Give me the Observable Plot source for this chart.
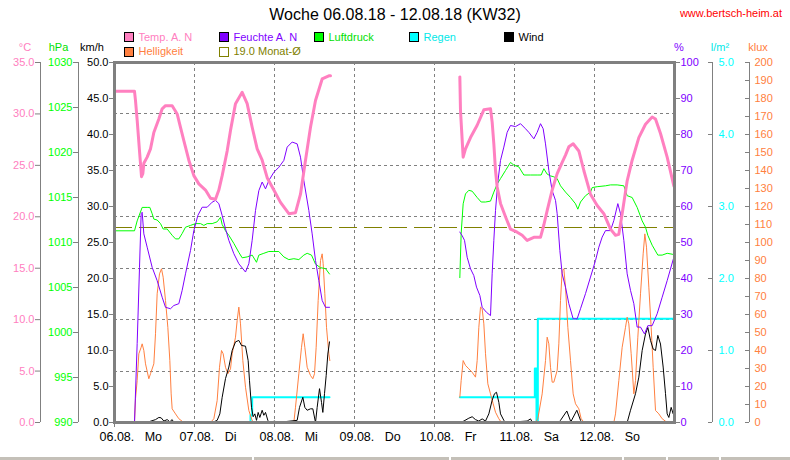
<!DOCTYPE html>
<html><head><meta charset="utf-8">
<script src="https://cdn.jsdelivr.net/npm/d3@7"></script>
<script src="https://cdn.jsdelivr.net/npm/@observablehq/plot@0.6"></script>
<style>
html,body{margin:0;padding:0;background:#fff;}
#wrap{position:relative;width:790px;height:460px;overflow:hidden;background:#fff;font-family:"Liberation Sans",Arial,sans-serif;}
.t{position:absolute;white-space:pre;line-height:12px;font-size:11px;}
.sq{position:absolute;width:8px;height:8px;border:1px solid #000;}
.sb{position:absolute;top:457px;height:3px;background:#c4c0b8;}
</style></head><body><div id="wrap"></div>
<script>
// ---------- data (t = hours since 06.08.18 00:00) ----------
const dayTicks = [0, 24, 48, 72, 96, 120, 144];
const dayLabels = ["06.08.\u00a0\u00a0\u00a0Mo", "07.08.\u00a0\u00a0\u00a0Di", "08.08.\u00a0\u00a0\u00a0Mi", "09.08.\u00a0\u00a0\u00a0Do", "10.08.\u00a0\u00a0\u00a0Fr", "11.08.\u00a0\u00a0\u00a0Sa", "12.08.\u00a0\u00a0\u00a0So"];
const tempTicks = [0, 5, 10, 15, 20, 25, 30, 35];
const tempGrid = [5, 10, 15, 20, 25, 30];
const presTicks = [990, 995, 1000, 1005, 1010, 1015, 1020, 1025, 1030];
const windTicks = [0, 5, 10, 15, 20, 25, 30, 35, 40, 45, 50];
const humTicks = [0, 10, 20, 30, 40, 50, 60, 70, 80, 90, 100];
const rainTicks = [0, 1, 2, 3, 4, 5];
const luxTicks = [0, 10, 20, 30, 40, 50, 60, 70, 80, 90, 100, 110, 120, 130, 140, 150, 160, 170, 180, 190, 200];
const monthAvg = 19.0;

const temp = [[0,32.2],[6,32.2],[6.3,31.3],[6.8,29.4],[7.5,26.4],[8.1,23.9],[8.5,24.2],[8.8,25.2],[9.8,25.8],[10.8,26.6],[11.8,28.2],[13.3,29.5],[14.3,30.5],[15.3,30.8],[17.3,30.8],[18.8,30.0],[19.8,28.7],[20.8,27.4],[22.3,25.5],[23.8,24.0],[25.3,23.2],[27.3,22.6],[28.8,21.8],[30.3,21.7],[31.3,22.6],[32.3,24.0],[33.8,26.4],[34.8,28.4],[36.3,31.0],[38.3,32.1],[39.8,31.0],[41.3,28.7],[42.8,26.6],[44.3,25.5],[45.8,23.8],[47.8,22.6],[49.8,21.4],[52.3,20.3],[54.3,20.4],[55.8,22.2],[57.3,25.5],[58.8,28.7],[60.3,31.3],[62.3,33.4],[64.3,33.7],[64.8,33.7],
[84,null],
[103.6,33.6],[103.8,30.3],[104.6,25.8],[105.3,26.6],[106.8,27.7],[108.8,28.9],[110.8,30.4],[112.8,30.5],[113.3,29.2],[113.8,27.1],[114.3,24.5],[114.8,22.9],[115.8,21.3],[117.3,20.0],[118.8,18.8],[120.8,18.5],[122.3,18.2],[123.8,17.7],[125.8,18.0],[127.8,18.0],[128.8,19.2],[129.8,20.6],[131.3,22.6],[132.8,24.2],[134.3,25.3],[135.3,26.0],[136.3,26.8],[137.6,27.1],[139.3,26.4],[140.8,24.5],[142.8,22.2],[144.8,21.1],[146.8,20.3],[148.8,18.8],[150.3,18.2],[151.3,18.3],[152.3,20.3],[153.8,23.5],[155.3,25.5],[157.3,27.7],[159.3,29.0],[161.3,29.7],[162.3,29.5],[163.8,28.1],[165.8,25.8],[167.8,23.0]];

const humidity = [[6.0,0],[6.8,21.9],[7.5,43.1],[8.0,58.0],[8.3,58.4],[8.8,52.4],[9.8,48.7],[11.3,43.1],[12.8,39.4],[14.3,34.8],[15.3,32.0],[16.8,31.6],[17.8,32.5],[19.3,33.0],[20.3,36.7],[21.3,41.3],[22.8,47.8],[23.8,53.3],[25.0,57.5],[26.3,59.8],[27.8,59.8],[29.3,61.2],[30.3,61.7],[31.3,60.8],[32.3,57.5],[33.3,53.8],[34.3,50.6],[35.8,46.9],[37.3,44.1],[39.3,41.8],[40.3,44.1],[41.3,50.6],[42.3,58.9],[43.3,64.4],[44.3,66.8],[45.3,64.9],[46.3,67.2],[47.8,69.5],[49.3,70.9],[50.8,72.8],[51.8,76.5],[53.3,77.9],[54.8,77.4],[55.8,73.7],[56.8,67.2],[58.3,58.9],[59.3,52.4],[60.3,45.0],[61.3,39.4],[62.3,33.9],[63.3,32.0],[64.5,32.0],
[84,null],
[103.6,52.9],[104.3,51.9],[105.0,50.6],[105.8,45.9],[106.8,42.7],[107.8,40.8],[108.6,37.6],[109.6,35.3],[110.3,32.0],[111.6,30.6],[112.8,29.7],[113.3,41.3],[113.8,50.6],[114.3,58.9],[115.0,66.8],[115.8,72.8],[116.8,76.5],[117.8,80.6],[118.8,82.5],[120.3,82.2],[121.8,83.0],[123.3,81.6],[124.3,80.6],[125.8,78.8],[126.8,80.6],[127.8,83.0],[128.6,81.6],[129.3,77.4],[130.3,70.0],[131.3,64.4],[132.3,61.7],[132.8,58.0],[133.6,47.8],[134.3,41.3],[135.3,37.6],[136.3,33.0],[137.6,28.8],[138.8,28.8],[139.8,31.6],[141.3,35.8],[142.8,40.4],[144.3,45.0],[145.3,48.7],[146.3,51.5],[147.3,53.3],[148.8,53.3],[149.8,56.1],[151.0,60.8],[151.8,58.0],[152.8,50.6],[153.8,41.3],[154.8,36.7],[155.8,33.0],[156.8,26.5],[157.8,26.5],[159.0,24.6],[160.0,26.9],[161.3,26.9],[162.8,30.2],[164.3,34.8],[165.8,39.4],[167.8,45.9]];

const pressure = [[0,1011.3],[6.0,1011.3],[6.8,1012.4],[8.3,1013.9],[9.8,1013.9],[10.6,1013.9],[11.3,1013.2],[11.8,1012.6],[12.8,1012.5],[13.8,1012.1],[14.6,1011.5],[15.8,1011.5],[17.3,1010.8],[18.3,1010.4],[19.3,1010.4],[20.3,1011.0],[21.3,1011.7],[22.8,1011.9],[24.3,1012.1],[25.8,1012.1],[26.8,1011.9],[27.8,1012.1],[29.3,1012.1],[30.8,1012.3],[31.8,1012.8],[32.3,1012.0],[33.3,1011.3],[34.3,1010.8],[35.8,1009.9],[37.3,1008.9],[38.3,1008.3],[39.8,1008.4],[41.3,1008.6],[42.6,1007.8],[43.3,1008.6],[44.8,1008.8],[46.3,1009.0],[47.8,1009.0],[49.3,1009.0],[50.8,1008.4],[52.3,1008.1],[53.8,1008.2],[55.3,1008.1],[56.8,1008.6],[57.8,1008.8],[59.1,1008.6],[60.3,1007.6],[61.8,1007.2],[63.3,1007.1],[64.5,1006.5],
[84,null],
[103.6,1006.1],[104.0,1011.0],[104.6,1014.3],[105.3,1015.4],[106.3,1015.8],[107.3,1015.7],[108.8,1015.0],[110.0,1014.5],[111.3,1014.5],[112.8,1014.6],[113.8,1015.6],[114.8,1016.5],[115.8,1017.1],[117.3,1018.0],[118.8,1018.9],[119.8,1018.6],[121.3,1018.4],[122.8,1017.5],[124.8,1017.5],[126.8,1017.5],[128.0,1017.5],[128.8,1018.2],[129.8,1017.6],[130.8,1017.4],[131.8,1017.3],[132.8,1017.1],[133.8,1016.3],[135.3,1015.6],[136.8,1015.0],[138.3,1014.3],[139.0,1013.7],[139.8,1014.5],[141.3,1015.2],[142.8,1015.6],[143.3,1016.1],[144.8,1016.2],[147.3,1016.3],[148.8,1016.4],[150.8,1016.4],[152.8,1016.3],[153.8,1015.2],[155.3,1015.0],[156.8,1013.9],[158.3,1012.4],[159.3,1011.7],[160.0,1010.8],[161.3,1009.7],[163.0,1008.6],[164.3,1008.6],[165.8,1008.8],[167.3,1008.7],[168,1008.6]];

const light = [[6.0,0],[6.3,13.2],[6.8,23.3],[7.3,38.2],[8.0,41.8],[8.3,43.7],[8.8,40.0],[9.3,32.6],[10.3,24.3],[10.8,27.1],[11.8,32.6],[12.3,49.3],[12.8,71.5],[13.5,82.6],[14.1,85.4],[14.6,80.7],[15.3,67.8],[16.0,52.9],[16.6,34.4],[17.0,15.9],[17.3,7.6],[18.3,4.8],[19.3,2.1],[20.3,0.7],[20.8,0],[28.8,0],[29.8,2.1],[30.8,12.2],[31.5,30.7],[32.1,40.0],[32.6,38.2],[33.3,30.7],[34.0,27.1],[34.8,29.8],[35.3,38.2],[36.3,47.4],[36.8,56.7],[37.3,64.1],[37.8,54.8],[38.5,34.4],[39.3,19.6],[40.3,6.7],[41.3,1.1],[42.1,0],[53.8,0],[54.3,8.5],[55.3,27.1],[56.1,41.8],[56.6,49.3],[57.1,41.8],[57.8,30.7],[58.8,26.1],[59.5,24.3],[60.0,27.1],[60.5,41.8],[61.1,67.8],[61.8,90.0],[62.3,93.7],[62.6,88.2],[63.1,71.5],[63.6,52.9],[64.3,38.2],[64.6,34.4],
[84,null],
[103.6,14.1],[104.0,23.3],[104.6,34.4],[105.3,31.7],[106.3,29.8],[107.3,27.9],[108.3,25.2],[108.8,34.4],[109.3,52.9],[109.8,64.1],[110.3,63.2],[110.8,54.8],[111.3,38.2],[112.0,21.5],[112.8,15.9],[113.6,10.4],[114.3,5.7],[115.3,2.1],[115.8,0.7],[116.4,0],[126.3,0],[127.0,2.1],[128.3,15.9],[129.3,34.4],[129.8,47.4],[130.3,43.7],[130.8,30.7],[131.3,22.4],[131.8,22.4],[132.8,28.9],[133.3,43.7],[133.8,67.8],[134.3,84.4],[134.8,85.4],[135.3,75.2],[136.0,52.9],[136.8,34.4],[137.6,15.9],[138.3,10.4],[139.3,7.6],[140.0,2.1],[140.6,0.7],[141.0,0],[149.8,0],[150.3,4.8],[151.3,23.3],[152.3,41.8],[153.3,52.9],[153.8,58.5],[154.3,54.8],[155.0,38.2],[155.8,15.9],[156.3,23.3],[157.0,47.4],[157.8,71.5],[158.6,93.7],[159.1,104.8],[159.6,97.4],[160.3,75.2],[161.0,52.9],[161.6,30.7],[162.3,6.7],[163.3,4.8],[164.3,2.1],[165.3,0.7],[165.9,0],[168,0]];

const wind = [[6.0,0],[8.8,0.1],[10.3,0.1],[12.3,0.4],[13.3,0.7],[14.0,0.65],[14.8,0.2],[15.8,0.4],[16.6,0.1],[17.3,0.4],[17.8,0],[29.3,0],[30.8,0.3],[31.6,1.2],[32.3,3.5],[33.3,6.1],[34.3,7.7],[35.3,10.0],[36.3,11.2],[37.3,11.4],[38.1,10.7],[39.3,10.6],[40.1,8.6],[40.5,5.8],[41.1,2.1],[41.6,0.8],[42.1,1.2],[42.6,0.3],[43.1,1.4],[43.6,0.7],[44.3,1.7],[44.8,1.0],[45.3,1.4],[46.0,0.3],[46.5,0],[48.1,0.2],[48.8,0],[54.8,0.3],[55.5,2.1],[56.5,3.5],[57.1,2.1],[57.8,1.7],[58.8,1.9],[59.5,1.9],[60.3,0],[60.8,2.1],[61.5,4.7],[62.1,2.8],[62.5,1.4],[63.0,4.0],[63.5,6.5],[64.0,9.5],[64.5,11.2],
[84,null],
[103.6,0],[104.8,0.2],[106.3,0.6],[107.3,0.8],[108.3,0.4],[109.3,0.2],[110.3,0.5],[111.3,0.2],[112.3,1.2],[113.3,3.1],[114.0,4.0],[114.6,4.2],[115.3,2.8],[115.8,1.2],[116.8,0.3],[117.3,0],[123.8,0.2],[124.8,0.5],[125.4,0],[133.2,0],[133.8,0.3],[135.7,1.6],[136.9,0.1],[138.7,1.7],[139.8,0.3],[140.4,0],[153.8,0],[154.8,1.7],[156.3,4.0],[157.3,6.3],[158.3,10.0],[159.3,12.3],[160.0,13.2],[160.8,11.4],[161.6,10.2],[162.3,10.0],[163.0,12.1],[163.8,10.9],[164.6,7.7],[165.3,4.0],[165.8,1.2],[166.3,0.7],[167.0,2.1],[167.6,1.2],[168,1.0]];

const rain = [[6,0],[40.3,0],[40.8,0.1],[41.3,0.35],[64.5,0.35],
[84,null],
[103.6,0.35],[126.1,0.75],[126.6,0],[127.0,1.44],[168,1.44]];

const legendLabels = [["Temp. A. N", "Helligkeit"], ["Feuchte A. N", monthAvg.toFixed(1) + " Monat-Ø"], ["Luftdruck"], ["Regen"], ["Wind"]];

// ---------- styling ----------
const C = {pink:"#ff80c0", orange:"#ff8040", purple:"#8000ff", olive:"#808000", green:"#00ff00", cyan:"#00ffff", black:"#000000", grey:"#808080"};
const legendColors = [[C.pink, C.orange], [C.purple, C.olive], [C.green], [C.cyan], [C.black]];
const legendText = [[C.pink, C.orange], [C.purple, C.olive], ["#00e000"], ["#00e8e8"], [C.black]];

const wrap = document.getElementById("wrap");
const W = 790, H = 460, ML = 114, MR = 116, MT = 62, MB = 38;
const pts = a => a.map(([t, v]) => ({t, v}));
const f1 = d => d.toFixed(1);
const crisp = {shapeRendering: "crispEdges"};

function mk(ydom, marks) {
  const svg = Plot.plot({
    width: W, height: H, marginLeft: ML, marginRight: MR, marginTop: MT, marginBottom: MB,
    x: {domain: [0, 168], axis: null},
    y: {domain: ydom, axis: null},
    style: {position: "absolute", left: "0px", top: "0px", background: "transparent", overflow: "visible",
            fontFamily: "'Liberation Sans', Arial, sans-serif", fontSize: "11px"},
    marks
  });
  wrap.appendChild(svg);
}

// base: grid, Monat-Ø, x axis, °C axis
mk([0, 35], [
  Plot.ruleY(tempGrid, {stroke: C.grey, strokeDasharray: "3,3", ...crisp}),
  Plot.ruleX(dayTicks.slice(1), {stroke: C.grey, strokeDasharray: "3,3", ...crisp}),
  Plot.ruleY([monthAvg], {stroke: C.olive, strokeDasharray: "18,7", ...crisp}),
  Plot.axisX(dayTicks, {anchor: "bottom", tickSize: 5, stroke: C.grey, fill: "none", label: null}),
  Plot.axisX(dayTicks, {anchor: "bottom", tickSize: 0, tickPadding: 10, textAnchor: "start", dx: -15, fontSize: 12.5, fill: "#000",
    tickFormat: d => dayLabels[dayTicks.indexOf(d)], label: null}),
  Plot.ruleX([0], {dx: -74, stroke: C.grey, ...crisp}),
  Plot.axisY(tempTicks, {anchor: "left", dx: -74, tickSize: 5, tickPadding: 1, stroke: C.grey, fill: C.pink, tickFormat: f1, fontSize: 11, label: null})
]);
// rain l/m²
mk([0, 5], [
  Plot.ruleX([168], {dx: 38, stroke: C.grey, ...crisp}),
  Plot.axisY(rainTicks, {anchor: "left", dx: 598, tickSize: 4, stroke: C.grey, fill: "none", label: null}),
  Plot.axisY(rainTicks, {anchor: "right", dx: 38, tickSize: 0, tickPadding: 6, fill: C.cyan, tickFormat: f1, fontSize: 11, label: null}),
  Plot.line(pts(rain), {x: "t", y: "v", stroke: C.cyan, strokeWidth: 2, curve: "step-after"})
]);
// light klux
mk([0, 200], [
  Plot.ruleX([168], {dx: 75, stroke: C.grey, ...crisp}),
  Plot.axisY(luxTicks, {anchor: "left", dx: 635, tickSize: 4, stroke: C.grey, fill: "none", label: null}),
  Plot.axisY(luxTicks, {anchor: "right", dx: 75, tickSize: 0, tickPadding: 5, fill: C.orange, tickFormat: d => String(d), fontSize: 11, label: null}),
  Plot.line(pts(light), {x: "t", y: "v", stroke: C.orange, strokeWidth: 1})
]);
// wind km/h
mk([0, 50], [
  Plot.axisY(windTicks, {anchor: "left", tickSize: 5, tickPadding: 1, stroke: C.grey, fill: C.black, tickFormat: f1, fontSize: 11, label: null}),
  Plot.line(pts(wind), {x: "t", y: "v", stroke: C.black, strokeWidth: 1})
]);
// pressure hPa
mk([990, 1030], [
  Plot.ruleX([0], {dx: -36, stroke: C.grey, ...crisp}),
  Plot.axisY(presTicks, {anchor: "left", dx: -36, tickSize: 5, tickPadding: 1, stroke: C.grey, fill: C.green, tickFormat: d => String(d), fontSize: 11, label: null}),
  Plot.line(pts(pressure), {x: "t", y: "v", stroke: C.green, strokeWidth: 1})
]);
// humidity %
mk([0, 100], [
  Plot.axisY(humTicks, {anchor: "right", tickSize: 5, tickPadding: 1, stroke: C.grey, fill: C.purple, tickFormat: d => String(d), fontSize: 11, label: null}),
  Plot.line(pts(humidity), {x: "t", y: "v", stroke: C.purple, strokeWidth: 1})
]);
// temperature + frame
mk([0, 35], [
  Plot.line(pts(temp), {x: "t", y: "v", stroke: C.pink, strokeWidth: 3}),
  Plot.frame({stroke: C.grey, strokeWidth: 3, ...crisp})
]);

// ---------- HTML text: title, url, units, legend ----------
function txt(s, x, y, color, size, anchor) {
  const d = document.createElement("div");
  d.className = "t";
  d.textContent = s;
  d.style.color = color;
  d.style.fontSize = size + "px";
  d.style.lineHeight = Math.round(size * 1.15) + "px";
  d.style.top = (y - Math.round(size * 1.15) / 2) + "px";
  if (anchor === "middle") { d.style.left = (x - 200) + "px"; d.style.width = "400px"; d.style.textAlign = "center"; }
  else if (anchor === "end") { d.style.right = (W - x) + "px"; d.style.textAlign = "right"; }
  else d.style.left = x + "px";
  wrap.appendChild(d);
}
txt("Woche 06.08.18 - 12.08.18 (KW32)", 395, 15, "#000", 16, "middle");
txt("www.bertsch-heim.at", 782, 13, "#ff0000", 11, "end");
txt("°C", 25, 47, C.pink, 11, "middle");
txt("hPa", 58.5, 47, "#00e000", 11, "middle");
txt("km/h", 92, 47, "#000", 11, "middle");
txt("%", 679, 47, C.purple, 11, "middle");
txt("l/m²", 720, 47, "#00e8e8", 11, "middle");
txt("klux", 758, 47, C.orange, 11, "middle");

legendLabels.forEach((col, ci) => {
  col.forEach((lab, ri) => {
    const x = 124 + 95 * ci, y = 32 + 14.5 * ri;
    const sq = document.createElement("div");
    sq.className = "sq";
    sq.style.left = x + "px"; sq.style.top = y + "px";
    if (legendColors[ci][ri] === C.olive) { sq.style.border = "1px solid " + C.olive; sq.style.background = "transparent"; }
    else sq.style.background = legendColors[ci][ri];
    wrap.appendChild(sq);
    txt(lab, x + 14.5, y + 5.3, legendText[ci][ri], 11, "start");
  });
});

// window status bar panels
[[0, 252], [254, 449], [451, 622], [624, 666], [668, 719], [721, 790]].forEach(([a, b]) => {
  const s = document.createElement("div");
  s.className = "sb"; s.style.left = a + "px"; s.style.width = (b - a) + "px";
  wrap.appendChild(s);
});
</script></body></html>
